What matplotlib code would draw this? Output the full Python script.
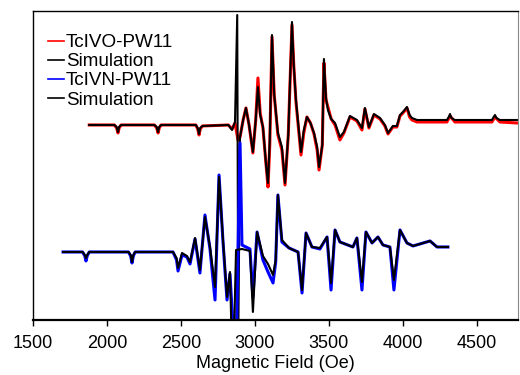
import numpy as np
import matplotlib
matplotlib.use('Agg')
import matplotlib.pyplot as plt

plt.rcParams['font.family'] = ['Liberation Sans', 'DejaVu Sans']
plt.rcParams['font.size'] = 13

# TcIVO-PW11 (top spectrum), field in Oe, signal in arbitrary units
vo_field = [1880, 2050, 2065, 2074, 2082, 2095, 2320, 2336, 2345, 2353, 2365, 2600, 2613,
            2622, 2630, 2645, 2820, 2845, 2865, 2885, 2899, 2920, 2939, 2960, 2986,
            3005, 3020, 3035, 3054, 3075, 3088, 3100, 3115, 3130, 3155, 3182, 3203,
            3225, 3250, 3262, 3277, 3295, 3311, 3330, 3351, 3375, 3399, 3420, 3433,
            3455, 3466, 3480, 3493, 3515, 3541, 3574, 3601, 3642, 3689, 3723, 3743,
            3770, 3804, 3845, 3878, 3899, 3932, 3959, 3980, 4000, 4027, 4045, 4061,
            4095, 4297, 4318, 4351, 4601, 4622, 4655, 4770]
vo_exp = [0, 0, -3, -8, -3, 0, 0, -3, -8, -3, 0, 0, -4,
          -10, -4, -1, 0, -4, 2, -15, -12, 5, 17, 0, -28,
          5, 47, 12, -3, -40, -62, -20, 88, 30, -10, -25, -60,
          -10, 100, 60, 23, -5, -30, -8, 8, 2, -9, -25, -45,
          -20, 62, 25, 18, 6, 0, -15, -8, 8, 4, -5, 16,
          -3, 10, 6, -1, -9, -2, -2, 9, 12, 17, 8, 5,
          3, 3, 9, 3, 3, 8, 3, 2]
vo_sim_field = [1880, 2050, 2065, 2074, 2082, 2095, 2320, 2336, 2345, 2353, 2365, 2600,
                2613, 2622, 2630, 2645, 2820, 2845, 2865, 2880, 2887, 2899, 2920, 2939,
                2960, 2986, 3005, 3020, 3035, 3054, 3075, 3088, 3100, 3115, 3130, 3155,
                3182, 3203, 3225, 3250, 3262, 3277, 3295, 3311, 3330, 3351, 3375, 3399,
                3420, 3433, 3455, 3466, 3480, 3493, 3515, 3541, 3574, 3601, 3642, 3689,
                3723, 3743, 3770, 3804, 3845, 3878, 3899, 3932, 3959, 3980, 4000, 4027,
                4045, 4061, 4095, 4297, 4310, 4318, 4328, 4351, 4601, 4613, 4622, 4632,
                4655, 4770]
vo_sim = [0, 0, -2, -7, -2, 0, 0, -2, -7, -2, 0, 0,
          -3, -9, -3, -1, 0, -5, 3, 110, -215, -12, 5, 17,
          0, -27, 5, 38, 10, -2, -40, -58, -15, 90, 30, -8,
          -22, -58, -10, 103, 60, 25, -3, -27, -5, 8, 2, -8,
          -22, -42, -20, 66, 27, 15, 6, 2, -12, -7, 9, 5,
          -3, 17, -2, 11, 7, 0, -8, -1, -1, 10, 13, 18,
          10, 7, 5, 5, 8, 11, 7, 5, 5, 8, 10, 7,
          5, 5]

# TcIVN-PW11 (bottom spectrum)
vn_field = [1703, 1835, 1850, 1858, 1866, 1880, 2145, 2160, 2169, 2178, 2190, 2446,
            2470, 2480, 2507, 2540, 2561, 2595, 2628, 2662, 2696, 2730, 2757, 2784,
            2811, 2831, 2852, 2875, 2899, 2912, 2966, 2986, 3014, 3054, 3088, 3122,
            3140, 3155, 3182, 3230, 3291, 3318, 3345, 3385, 3439, 3487, 3514, 3541,
            3574, 3662, 3689, 3723, 3750, 3791, 3831, 3865, 3912, 3939, 3980, 4027,
            4068, 4183, 4230, 4304]
vn_exp = [0, 0, -4, -9, -4, 0, 0, -4, -11, -4, 0, 0,
          -8, -19, -3, -5, -12, 13, -21, 37, 3, -48, 77, 10,
          -48, -22, -75, -80, 109, 7, 3, -45, 20, -8, -20, -31,
          -10, 57, 10, 4, 0, -41, 19, 5, 3, 15, -38, 22,
          10, 5, 14, -38, 20, 9, 15, 7, 5, -38, 22, 9,
          6, 11, 5, 5]
vn_sim_field = [1703, 1835, 1850, 1858, 1866, 1880, 2145, 2160, 2169, 2178, 2190, 2446,
                2470, 2480, 2507, 2540, 2561, 2595, 2628, 2662, 2696, 2730, 2757, 2784,
                2811, 2831, 2842, 2858, 2872, 2912, 2966, 2986, 3014, 3054, 3088, 3122,
                3140, 3155, 3182, 3230, 3291, 3318, 3345, 3385, 3439, 3487, 3514, 3541,
                3574, 3662, 3689, 3723, 3750, 3791, 3831, 3865, 3912, 3939, 3980, 4027,
                4068, 4183, 4230, 4304]
vn_sim = [0, 0, -3, -6, -3, 0, 0, -3, -10, -3, 0, 0,
          -6, -16, -1, -4, -10, 14, -18, 35, 5, -35, 75, 12,
          -45, -20, -85, -85, 2, 3, 1, -60, 20, -4, -12, -23,
          -8, 57, 12, 4, 0, -38, 19, 5, 4, 15, -31, 22,
          10, 5, 14, -30, 20, 9, 15, 7, 5, -28, 22, 9,
          6, 11, 5, 5]

labels = ['TcIVO-PW11', 'Simulation', 'TcIVN-PW11', 'Simulation']

fig = plt.figure(figsize=(5.2, 3.75), dpi=100)
ax = fig.add_axes([0.0635, 0.1467, 0.9325, 0.824])

top_off = 195
bot_off = 68
ax.plot(vo_field, np.array(vo_exp) + top_off, c='#ff0000', lw=2.2,
        solid_joinstyle='round', label=labels[0])
ax.plot(vo_sim_field, np.array(vo_sim) + top_off, c='k', lw=1.5,
        solid_joinstyle='round', label=labels[1])
ax.plot(vn_field, np.array(vn_exp) + bot_off, c='#0000ff', lw=2.2,
        solid_joinstyle='round', label=labels[2])
ax.plot(vn_sim_field, np.array(vn_sim) + bot_off, c='k', lw=1.5,
        solid_joinstyle='round', label=labels[3])

ax.set_xlim(1500, 4777)
ax.set_ylim(0, 309)
ax.set_xticks([1500, 2000, 2500, 3000, 3500, 4000, 4500])
ax.set_yticks([])
ax.tick_params(axis='x', direction='out', length=4, width=1, pad=7, labelsize=13)
ax.set_xlabel('Magnetic Field (Oe)', fontsize=13, labelpad=2)
ax.spines['bottom'].set_linewidth(1.6)
ax.spines['left'].set_linewidth(1.0)
ax.spines['top'].set_linewidth(1.0)
ax.spines['right'].set_linewidth(0.8)
ax.spines['right'].set_color('#888888')

leg = ax.legend(loc='upper left', bbox_to_anchor=(48 / 520, 1 - 34 / 375),
                bbox_transform=fig.transFigure, frameon=False, fontsize=13.6,
                handlelength=0.85, handletextpad=0.1, labelspacing=0.1,
                borderpad=0, borderaxespad=0)
for h in leg.get_lines():
    h.set_linewidth(1.2)

fig.savefig('out.png', dpi=100)
